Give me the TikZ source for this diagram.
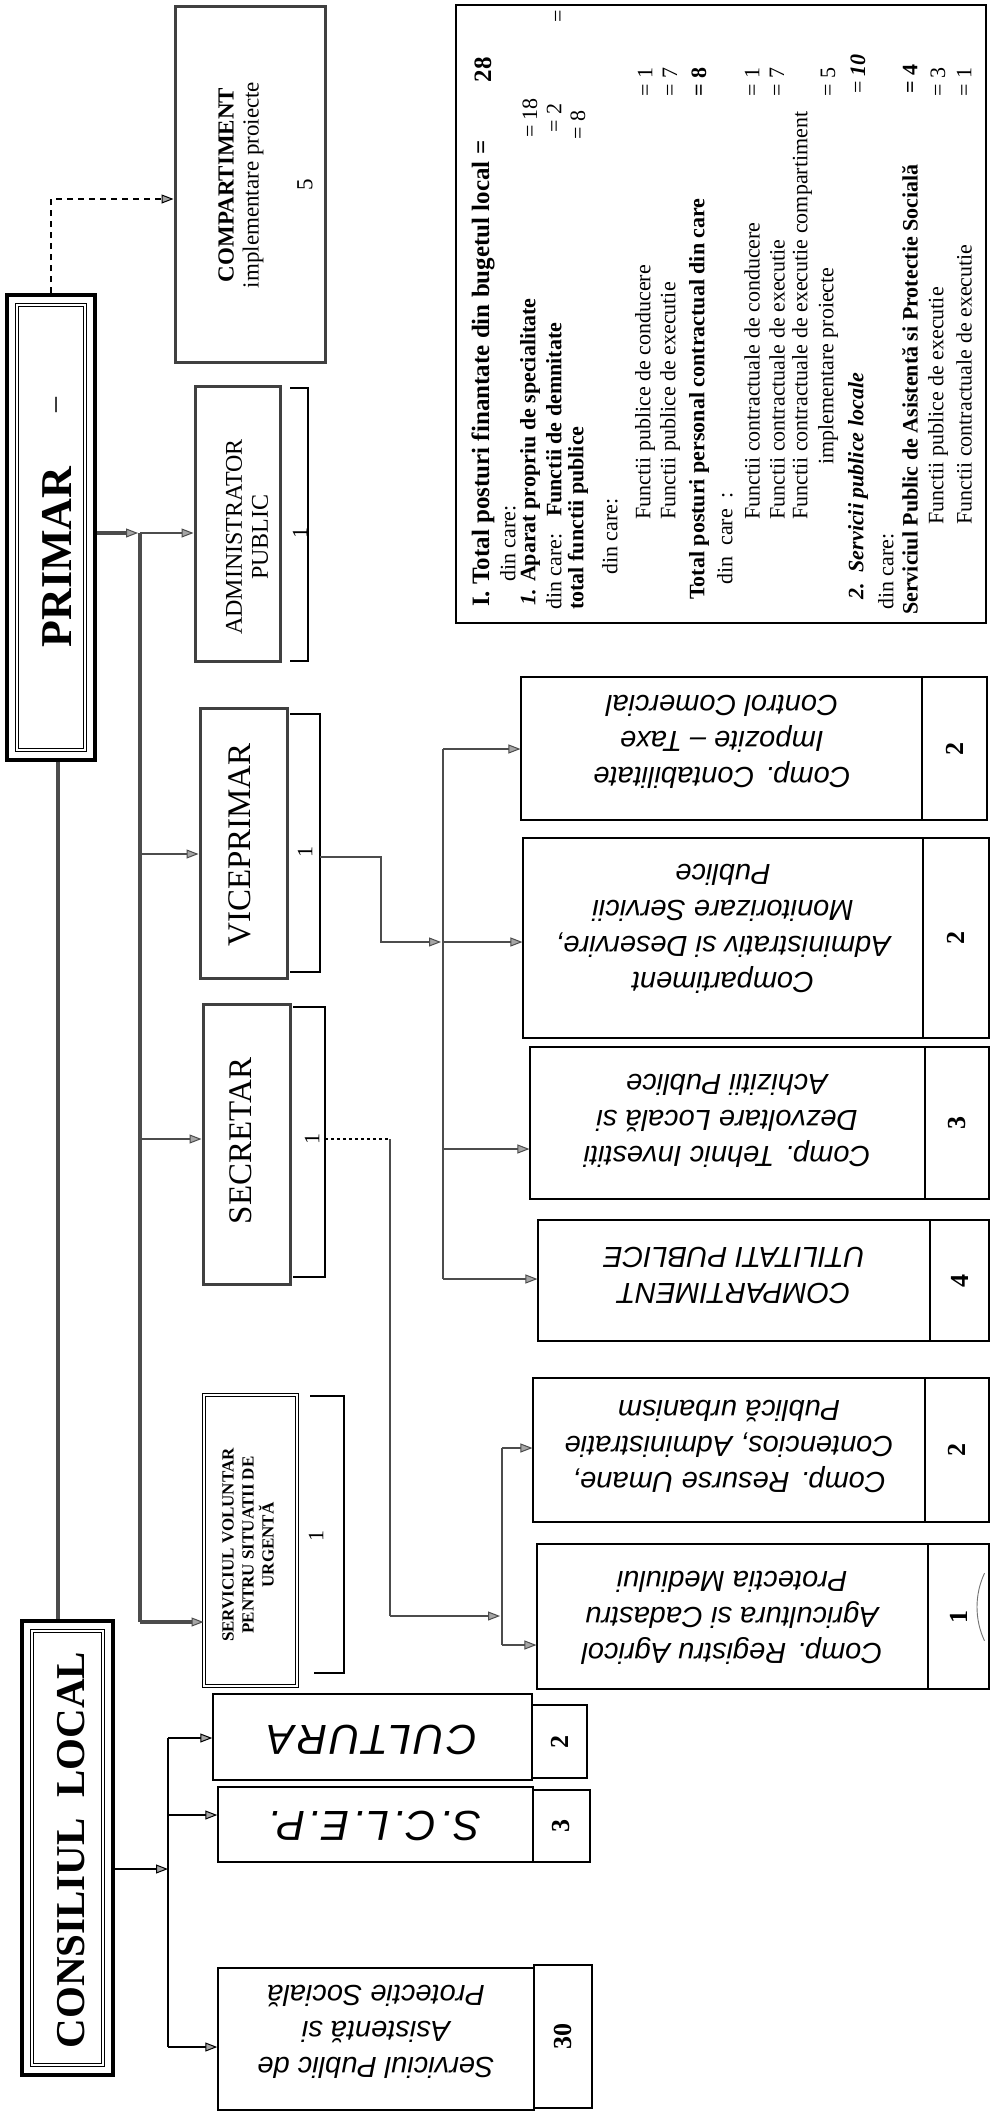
\documentclass[tikz,border=0pt]{standalone}
\usepackage{fontspec}
\setmainfont{Liberation Serif}
\newfontfamily\arialf{Liberation Sans}
\newfontfamily\arialsp[LetterSpace=6]{Liberation Sans}
\usetikzlibrary{arrows.meta,calc}
\newcommand{\fsz}[2]{\fontsize{#1}{#2}\selectfont}
\begin{document}
\begin{tikzpicture}[x=1pt,y=-1pt,
  rt/.style={rotate=90, inner sep=0pt},
  ud/.style={rotate=180, inner sep=0pt, align=center, font=\arialf\itshape\fsz{29}{36}},
  gbox/.style={draw=black!75, line width=3pt, inner sep=0pt},
  tbox/.style={draw=black, line width=1.1pt, inner sep=0pt},
  arr/.style={-{Triangle[length=12pt,width=9pt,fill=black!35,line width=1pt]}},
  busl/.style={line width=4.5pt, draw=black!70},
  conn/.style={line width=2.5pt, draw=black!70},
  thinl/.style={line width=1.4pt, draw=black},
  brk/.style={draw=black, line width=1.2pt},
  info/.style={rotate=90, inner sep=0pt, anchor=west, font=\fsz{22}{25}},
  val/.style={rotate=90, inner sep=0pt, font=\fsz{22}{25}},
  num/.style={rotate=90, inner sep=0pt, font=\bfseries\fsz{26}{28}},
  one/.style={rotate=90, inner sep=0pt, font=\fsz{22}{25}}
]
\useasboundingbox (0,0) rectangle (990,2114);
\fill[white] (0,0) rectangle (990,2114);

% ---------- COMPARTIMENT implementare proiecte
\node[gbox, minimum width=150, minimum height=355] (comp) at (250,184.5) {};
\node[rt, align=center, font=\fsz{23}{25}] (compT) at (241,185) {\textbf{COMPARTIMENT}\\implementare proiecte};
\node[rt, font=\fsz{23}{25}] (comp5) at (305,185) {5};

% ---------- PRIMAR
\node[draw=black, line width=4pt, minimum width=88, minimum height=465, inner sep=0] (prim) at (51,527.5) {};
\node[draw=black, double, double distance=1.6pt, line width=0.9pt, minimum width=68, minimum height=445, inner sep=0] (primin) at (51,527.5) {};
\node[rt, font=\bfseries\fsz{44}{48}] (primT) at (57,557) {PRIMAR};
\node[rt, font=\fsz{30}{32}] (primD) at (60,405) {–};

% ---------- ADMINISTRATOR PUBLIC
\node[gbox, minimum width=85, minimum height=275] (admin) at (237.5,523.5) {};
\node[rt, align=center, font=\fsz{24}{26}] (adminT) at (247,537) {ADMINISTRATOR\\PUBLIC};
\draw[brk] (290,388) -| (308,661) -- (290,661);
\node[one] (admin1) at (300,533) {1};

% ---------- VICEPRIMAR
\node[gbox, minimum width=87, minimum height=270] (vice) at (243.5,843) {};
\node[rt, font=\fsz{33}{36}] (viceT) at (240,845) {VICEPRIMAR};
\draw[brk] (290,714) -| (320,972) -- (290,972);
\node[one] (vice1) at (305,852) {1};

% ---------- SECRETAR
\node[gbox, minimum width=87, minimum height=280] (sec) at (246.5,1144) {};
\node[rt, font=\fsz{33}{36}] (secT) at (241,1141) {SECRETAR};
\draw[brk] (293,1007) -| (325,1277) -- (293,1277);
\node[one] (sec1) at (312,1139) {1};

% ---------- SERVICIUL VOLUNTAR
\node[draw=black, double, double distance=2pt, line width=1pt, minimum width=93, minimum height=291, inner sep=0] (svu) at (250.5,1540.5) {};
\node[rt, align=center, font=\bfseries\fsz{17}{20}] (svuT) at (248,1545) {SERVICIUL VOLUNTAR\\PENTRU SITUATII DE\\URGENTĂ};
\draw[brk] (310,1396) -| (344,1673) -- (314,1673);
\node[one] (svu1) at (316,1536) {1};

% ---------- CONSILIUL LOCAL
\node[draw=black, line width=4pt, minimum width=91, minimum height=454, inner sep=0] (cl) at (67.5,1848) {};
\node[draw=black, double, double distance=1.6pt, line width=0.9pt, minimum width=71, minimum height=434, inner sep=0] (clin) at (67.5,1848) {};
\node[rt, font=\bfseries\fsz{41}{44}] (clT) at (71,1850) {CONSILIUL\ \ LOCAL};

% ---------- info box
\node[draw=black, line width=1.1pt, minimum width=530, minimum height=618, inner sep=0] (infobox) at (721,314) {};
\node[info, font=\bfseries\fsz{25}{28}] (i1) at (483,607) {I. Total posturi finantate din bugetul local =};
\node[val, font=\bfseries\fsz{25}{28}] (v1) at (483,70) {28};
\node[info] (i2) at (508,582) {din care:};
\node[info] (i3) at (530,606) {\textbf{\textit{1.} Aparat propriu de specialitate}};
\node[val] (v3) at (530,118) {= 18};
\node[info] (i4) at (554,610) {din care:\ \ \ \textbf{Functii de demnitate}};
\node[val] (v4) at (554,118) {= 2};
\node[info] (i5) at (578,610) {\textbf{total functii publice}};
\node[val] (v5) at (578,125) {= 8};
\node[info] (i6) at (610,575) {din care:};
\node[info] (i7) at (645,520) {Functii publice de conducere};
\node[val] (v7) at (645,82) {= 1};
\node[info] (i8) at (670,520) {Functii publice de executie};
\node[val] (v8) at (670,82) {= 7};
\node[info] (i9) at (699,600) {\textbf{Total posturi personal contractual din care}};
\node[val] (v9) at (699,82) {\textbf{= 8}};
\node[info] (i10) at (725,585) {din\ \ care\ \ :};
\node[info] (i11) at (752,520) {Functii contractuale de conducere};
\node[val] (v11) at (752,82) {= 1};
\node[info] (i12) at (777,520) {Functii contractuale de executie};
\node[val] (v12) at (777,82) {= 7};
\node[info] (i13) at (802,520) {Functii contractuale de executie compartiment};
\node[info] (i14) at (828,465) {implementare proiecte};
\node[val] (v14) at (828,82) {= 5};
\node[info] (i15) at (858,600) {\textbf{\textit{2.\ \ Servicii publice locale}}};
\node[val] (v15) at (858,74) {= \textbf{\textit{10}}};
\node[info] (i16) at (886,610) {din care:};
\node[info] (i17) at (910,615) {\textbf{Serviciul Public de Asistentă si Protectie Socială}};
\node[val] (v17) at (910,79) {\textbf{= 4}};
\node[info] (i18) at (938,525) {Functii publice de executie};
\node[val] (v18) at (938,82) {= 3};
\node[info] (i19) at (964,525) {Functii contractuale de executie};
\node[val] (v19) at (964,82) {= 1};
\node[val] (veq) at (560,16) {=};

% ---------- department boxes (upside-down text)
\node[tbox, minimum width=401, minimum height=143] (cont) at (721.5,748.5) {};
\node[tbox, minimum width=65, minimum height=143] (contN) at (954.5,748.5) {};
\node[ud] (contT) at (722,742) {Comp. Contabilitate\\Impozite – Taxe\\Control Comercial};
\node[num] (contV) at (contN) {2};

\node[tbox, minimum width=400, minimum height=200] (adm) at (723,938) {};
\node[tbox, minimum width=66, minimum height=200] (admN) at (956,938) {};
\node[ud] (admT) at (723,929) {Compartiment\\Administrativ si Deservire,\\Monitorizare Servicii\\Publice};
\node[num] (admV) at (admN) {2};

\node[tbox, minimum width=395, minimum height=152] (teh) at (727.5,1123) {};
\node[tbox, minimum width=64, minimum height=152] (tehN) at (957,1123) {};
\node[ud] (tehT) at (727,1121) {Comp. Tehnic Investiti\\Dezvoltare Locală si\\Achizitii Publice};
\node[num] (tehV) at (tehN) {3};

\node[tbox, minimum width=392, minimum height=121] (util) at (734,1280.5) {};
\node[tbox, minimum width=59, minimum height=121] (utilN) at (959.5,1280.5) {};
\node[ud] (utilT) at (734,1275) {COMPARTIMENT\\UTILITATI PUBLICE};
\node[num] (utilV) at (utilN) {4};

\node[tbox, minimum width=392, minimum height=144] (res) at (729,1450) {};
\node[tbox, minimum width=64, minimum height=144] (resN) at (957,1450) {};
\node[ud] (resT) at (729,1446) {Comp. Resurse Umane,\\Contencios, Administratie\\Publică urbanism};
\node[num] (resV) at (resN) {2};

\node[tbox, minimum width=391, minimum height=145] (reg) at (732.5,1616.5) {};
\node[tbox, minimum width=61, minimum height=145] (regN) at (958.5,1616.5) {};
\node[ud] (regT) at (732,1618) {Comp. Registru Agricol\\Agricultura si Cadastru\\Protectia Mediului};
\node[num] (regV) at (regN) {1};

% ---------- CULTURA / S.C.L.E.P. / Serviciul Public
\node[tbox, line width=1.5pt, minimum width=319, minimum height=86] (cult) at (372.5,1737) {};
\node[tbox, minimum width=55, minimum height=73] (cultN) at (559.5,1741.5) {};
\node[ud, font=\arialsp\itshape\fsz{42}{46}] (cultT) at (372,1740) {CULTURA};
\node[num] (cultV) at (cultN) {2};

\node[tbox, line width=1.5pt, minimum width=315, minimum height=75] (sclep) at (375.5,1824.5) {};
\node[tbox, minimum width=57, minimum height=72] (sclepN) at (561.5,1826) {};
\node[ud, font=\arialsp\itshape\fsz{42}{46}] (sclepT) at (375,1826) {S.C.L.E.P.};
\node[num] (sclepV) at (sclepN) {3};

\node[tbox, line width=1.5pt, minimum width=316, minimum height=142] (spas) at (376,2039) {};
\node[tbox, minimum width=58, minimum height=143] (spasN) at (563,2036.5) {};
\node[ud] (spasT) at (376,2032) {Serviciul Public de\\Asistentă si\\Protectie Socială};
\node[num] (spasV) at (spasN) {30};

% stamp remnant
\draw[black!55, line width=0.9pt] (1057,1607) ++(155:80) arc[start angle=155, end angle=205, radius=80];

% ---------- connectors
\coordinate (dc) at (51,199);
\draw[thinl, dash pattern=on 6pt off 5pt, arr] (prim.north) -- (dc) -- (dc -| comp.west);

\coordinate (vl) at (58,0);
\draw[busl] (prim.south -| vl) -- (cl.north -| vl);

\coordinate (b1top) at (140,533);
\coordinate (b1v) at (140,854);
\coordinate (b1s) at (140,1139);
\coordinate (b1bot) at (140,1622);
\draw[busl, arr, shorten >=2pt] (prim.east |- b1top) -- (b1top);
\draw[busl] (b1top) -- (b1bot);
\draw[busl, arr] (b1bot) -- (b1bot -| svu.west);
\draw[conn, arr] (b1top) -- (b1top -| admin.west);
\draw[conn, arr] (b1v) -- (b1v -| vice.west);
\draw[conn, arr] (b1s) -- (b1s -| sec.west);

% VICEPRIMAR -> compartments
\coordinate (vb) at (320,857);
\coordinate (b3) at (443,942);
\coordinate (b3t) at (443,749);
\coordinate (b3c) at (443,1149);
\coordinate (b3b) at (443,1279);
\draw[conn, arr, shorten >=2pt] (vb) -- ++(61,0) |- (b3);
\draw[conn] (b3t) -- (b3b);
\draw[conn, arr] (b3t) -- (b3t -| cont.west);
\draw[conn, arr] (b3) -- (b3 -| adm.west);
\draw[conn, arr] (b3c) -- (b3c -| teh.west);
\draw[conn, arr] (b3b) -- (b3b -| util.west);

% SECRETAR -> compartments
\coordinate (sb) at (325,1139);
\coordinate (sc) at (390,1139);
\coordinate (sd) at (390,1616);
\coordinate (b4) at (502,1616);
\coordinate (b4t) at (502,1448);
\coordinate (b4b) at (502,1645);
\draw[black, line width=2pt, dash pattern=on 3pt off 3pt] (sb) -- (sc);
\draw[conn] (sc) -- (sd);
\draw[conn, arr, shorten >=2pt] (sd) -- (b4);
\draw[conn] (b4t) -- (b4b);
\draw[conn, arr] (b4t) -- (b4t -| res.west);
\draw[conn, arr] (b4b) -- (b4b -| reg.west);

% CONSILIUL LOCAL -> services
\coordinate (b2a) at (168,1869);
\coordinate (b2t) at (168,1738);
\coordinate (b2m) at (168,1815);
\coordinate (b2b) at (168,2047);
\draw[thinl, arr] (cl.east |- b2a) -- (b2a);
\draw[thinl] (b2t) -- (b2b);
\draw[thinl, arr] (b2t) -- (b2t -| cult.west);
\draw[thinl, arr] (b2m) -- (b2m -| sclep.west);
\draw[thinl, arr] (b2b) -- (b2b -| spas.west);
\end{tikzpicture}
\end{document}
